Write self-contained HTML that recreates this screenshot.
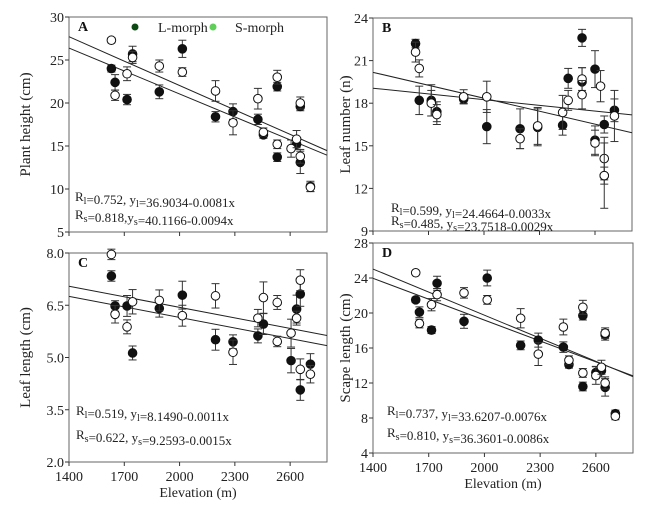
<!DOCTYPE html>
<html><head><meta charset="utf-8"><style>
body{margin:0;background:#fff;}
svg{display:block;font-family:"Liberation Serif",serif;}
</style></head><body>
<svg id="chart" width="668" height="508" viewBox="0 0 668 508"></svg>
<script>
// Panel A: plant height
const aElevL=[1630,1650,1715,1745,1890,2015,2195,2290,2425,2455,2530,2530,2635,2655,2655,2710];
const aValL=[24.0,22.4,20.4,25.7,21.3,26.3,18.4,19.0,18.1,16.3,21.9,13.7,15.2,19.6,13.1,10.3];
const aErrL=[0.4,0.9,0.6,0.9,0.8,1.0,0.6,0.9,0.6,0.4,0.5,0.5,0.6,0.5,1.3,0.6];
const aElevS=[1630,1650,1715,1745,1890,2015,2195,2290,2425,2455,2530,2530,2605,2635,2655,2655,2710];
const aValS=[27.3,20.9,23.4,25.3,24.3,23.6,21.4,17.7,20.5,16.6,23.0,15.2,14.7,15.8,20.0,13.8,10.2];
const aErrS=[0.3,0.6,0.8,0.7,0.7,0.5,1.2,1.4,1.2,0.5,0.8,0.5,1.0,1.0,0.7,0.8,0.5];
const aIntercept=[40.95,38.85];
const aSlope=[-0.00946,-0.0089];
const aTicks=[5,10,15,20,25,30];
// Panel B: leaf number
const bElevL=[1630,1650,1715,1745,1890,2015,2195,2290,2425,2455,2530,2530,2600,2600,2650,2650,2705];
const bValL=[22.2,18.2,18.2,17.4,18.3,16.35,16.2,16.3,16.45,19.75,22.6,19.5,20.4,15.4,16.5,12.9,17.5];
const bErrL=[0.3,1.0,1.1,0.7,0.3,1.2,1.4,1.3,0.7,0.7,0.6,1.0,1.3,1.0,0.6,0.6,0.8];
const bElevS=[1630,1650,1715,1745,1890,2015,2195,2290,2425,2455,2530,2530,2600,2630,2650,2650,2705];
const bValS=[21.6,20.45,18.0,17.2,18.45,18.45,15.5,16.4,17.35,18.2,19.7,18.6,15.2,19.2,14.1,12.9,17.1];
const bErrS=[0.7,0.6,0.9,0.7,0.5,1.1,0.7,1.3,1.2,0.7,0.8,1.0,0.9,1.1,1.5,2.3,1.8];
const bIntercept=[24.43,20.93];
const bSlope=[-0.00304,-0.00134];
const bTicks=[9,12,15,18,21,24];
// Panel C: leaf length
const cElevL=[1630,1650,1715,1745,1890,2015,2195,2290,2425,2455,2605,2635,2655,2655,2710];
const cValL=[7.34,6.48,6.48,5.13,6.41,6.79,5.51,5.45,5.62,5.96,4.91,6.39,6.82,4.07,4.81];
const cErrL=[0.15,0.15,0.3,0.2,0.25,0.4,0.3,0.2,0.2,0.3,0.35,0.4,0.35,0.3,0.3];
const cElevS=[1630,1650,1715,1745,1890,2015,2195,2290,2425,2455,2530,2530,2605,2635,2655,2655,2710];
const cValS=[7.96,6.24,5.88,6.6,6.64,6.2,6.77,5.15,6.13,6.72,6.58,5.46,5.7,6.13,7.22,4.66,4.52];
const cErrS=[0.15,0.25,0.2,0.35,0.3,0.3,0.35,0.35,0.25,0.45,0.2,0.15,0.4,0.2,0.3,0.3,0.25];
const cIntercept=[8.46,8.17];
const cSlope=[-0.00101,-0.00101];
const cTicks=[2.0,3.5,5.0,6.5,8.0];
// Panel D: scape length
const dElevL=[1630,1650,1715,1745,1890,2015,2195,2290,2425,2455,2530,2530,2600,2630,2650,2650,2705];
const dValL=[21.5,20.1,18.05,23.4,19.05,24.0,16.3,16.9,16.1,14.1,19.7,11.6,13.2,13.4,17.5,11.5,8.5];
const dErrL=[0.3,0.6,0.4,0.8,0.8,0.9,0.5,0.8,0.6,0.4,0.5,0.5,0.7,0.7,0.6,1.0,0.4];
const dElevS=[1630,1650,1715,1745,1890,2015,2195,2290,2425,2455,2530,2530,2600,2630,2650,2650,2705];
const dValS=[24.6,18.8,20.95,22.1,22.3,21.5,19.4,15.3,18.4,14.6,20.65,13.15,12.85,13.8,17.7,12.0,8.2];
const dErrS=[0.2,0.5,0.7,0.7,0.6,0.5,1.1,1.3,0.9,0.5,0.8,0.5,1.0,0.8,0.6,0.7,0.4];
const dIntercept=[37.33,35.11];
const dSlope=[-0.00879,-0.00796];
const dTicks=[4,8,12,16,20,24,28];
const xTicks=[1400,1700,2000,2300,2600];

const NS='http://www.w3.org/2000/svg';
const svg=document.getElementById('chart');
function mk(tag,attrs,parent){const e=document.createElementNS(NS,tag);for(const k in attrs)e.setAttribute(k,attrs[k]);(parent||svg).appendChild(e);return e;}

function panel(p){
  const g=mk('g',{});
  
  
  const xs=v=>p.x0+(v-1400)/1400*(p.x1-p.x0);
  const ys=v=>p.y1-(v-p.ymin)/(p.ymax-p.ymin)*(p.y1-p.y0);
  const frame=mk('rect',{x:p.x0,y:p.y0,width:p.x1-p.x0,height:p.y1-p.y0,fill:'none',stroke:'#666','stroke-width':1},g);
  
  
  p.yt.forEach(t=>{
    const y=ys(t);
    mk('line',{x1:p.x0-4,x2:p.x0,y1:y,y2:y,stroke:'#333'},g);
    const tx=mk('text',{x:p.x0-5,y:y+5,'text-anchor':'end','font-size':14,fill:'#222'},g);
    tx.textContent=p.fmt?t.toFixed(1):t;
    
    
  });
  xTicks.forEach(t=>{
    const x=xs(t);
    mk('line',{x1:x,x2:x,y1:p.y1,y2:p.y1+4,stroke:'#333'},g);
    if(p.xlab){const tx=mk('text',{x:x,y:p.y1+19,'text-anchor':'middle','font-size':14,fill:'#222'},g);
      tx.textContent=t;
      
      }
  });
  if(p.xlab){const t=mk('text',{x:(p.x0+p.x1)/2,y:p.y1+35,'text-anchor':'middle','font-size':14,fill:'#222'},g);
    t.textContent='Elevation (m)';
    
    }
  const yt=mk('text',{transform:`translate(${p.ytx},${(p.y0+p.y1)/2}) rotate(-90)`,'text-anchor':'middle','font-size':15,fill:'#222'},g);
  yt.textContent=p.ytitle;
  
  
  const lab=mk('text',{x:p.x0+9,y:p.y0+14,'font-size':14,'font-weight':'bold',fill:'#111'},g);
  lab.textContent=p.id;
  
  
  p.ic.forEach((b,i)=>{
    const l=mk('line',{x1:xs(1400),x2:xs(2800),y1:ys(b+p.sl[i]*1400),y2:ys(b+p.sl[i]*2800),stroke:'#222','stroke-width':1},g);
    
    
  });
  function series(el,val,err,fill,name){
    el.forEach((e,i)=>{
      const x=xs(e),y=ys(val[i]),yt=ys(val[i]+err[i]),yb=ys(val[i]-err[i]);
      mk('line',{x1:x,x2:x,y1:yt,y2:yb,stroke:'#333'},g);
      mk('line',{x1:x-4,x2:x+4,y1:yt,y2:yt,stroke:'#333'},g);
      mk('line',{x1:x-4,x2:x+4,y1:yb,y2:yb,stroke:'#333'},g);
      const c=mk('circle',{cx:x,cy:y,r:4.3,fill:fill,stroke:'#111','stroke-width':1},g);
      
      
    });
  }
  series(p.eL,p.vL,p.rL,'#111','point-l-morph');
  series(p.eS,p.vS,p.rS,'#fff','point-s-morph');
  p.eq.forEach((s,i)=>{
    const t=mk('text',{x:p.ex,y:p.ey[i],'font-size':13,fill:'#222'},g);
    t.innerHTML=s;
    
    
  });
}
const sub=(a)=>`<tspan dy="3" font-size="10">${a}</tspan><tspan dy="-3"></tspan>`;
panel({id:'A',x0:69,x1:327,y0:17,y1:232,ymin:5,ymax:30,yt:aTicks,ytx:30,ytitle:'Plant height (cm)',
  eL:aElevL,vL:aValL,rL:aErrL,eS:aElevS,vS:aValS,rS:aErrS,ic:aIntercept,sl:aSlope,
  ex:75,ey:[201,219],eq:[`R${sub('l')}=0.752, y${sub('l')}=36.9034-0.0081x`,`R${sub('s')}=0.818,y${sub('s')}=40.1166-0.0094x`]});
panel({id:'B',x0:373,x1:632,y0:18,y1:231,ymin:9,ymax:24,yt:bTicks,ytx:350,ytitle:'Leaf number (n)',
  eL:bElevL,vL:bValL,rL:bErrL,eS:bElevS,vS:bValS,rS:bErrS,ic:bIntercept,sl:bSlope,
  ex:391,ey:[212,225],eq:[`R${sub('l')}=0.599, y${sub('l')}=24.4664-0.0033x`,`R${sub('s')}=0.485, y${sub('s')}=23.7518-0.0029x`]});
panel({id:'C',x0:69,x1:327,y0:253,y1:462,ymin:2,ymax:8,yt:cTicks,fmt:true,ytx:30,ytitle:'Leaf  length (cm)',xlab:true,
  eL:cElevL,vL:cValL,rL:cErrL,eS:cElevS,vS:cValS,rS:cErrS,ic:cIntercept,sl:cSlope,
  ex:76,ey:[415,439],eq:[`R${sub('l')}=0.519, y${sub('l')}=8.1490-0.0011x`,`R${sub('s')}=0.622, y${sub('s')}=9.2593-0.0015x`]});
panel({id:'D',x0:373,x1:633,y0:243,y1:453,ymin:4,ymax:28,yt:dTicks,ytx:350,ytitle:'Scape length (cm)',xlab:true,
  eL:dElevL,vL:dValL,rL:dErrL,eS:dElevS,vS:dValS,rS:dErrS,ic:dIntercept,sl:dSlope,
  ex:387,ey:[415,437],eq:[`R${sub('l')}=0.737, y${sub('l')}=33.6207-0.0076x`,`R${sub('s')}=0.810, y${sub('s')}=36.3601-0.0086x`]});
// legend
const lg=mk('g',{});


const d1=mk('circle',{cx:135,cy:27,r:3.5,fill:'#0b4a12'},lg);


const t1=mk('text',{x:158,y:32,'font-size':14,fill:'#222'},lg);t1.textContent='L-morph';


const d2=mk('circle',{cx:213,cy:27,r:3.5,fill:'#5fcf5a'},lg);


const t2=mk('text',{x:235,y:32,'font-size':14,fill:'#222'},lg);t2.textContent='S-morph';


</script>
</body></html>
